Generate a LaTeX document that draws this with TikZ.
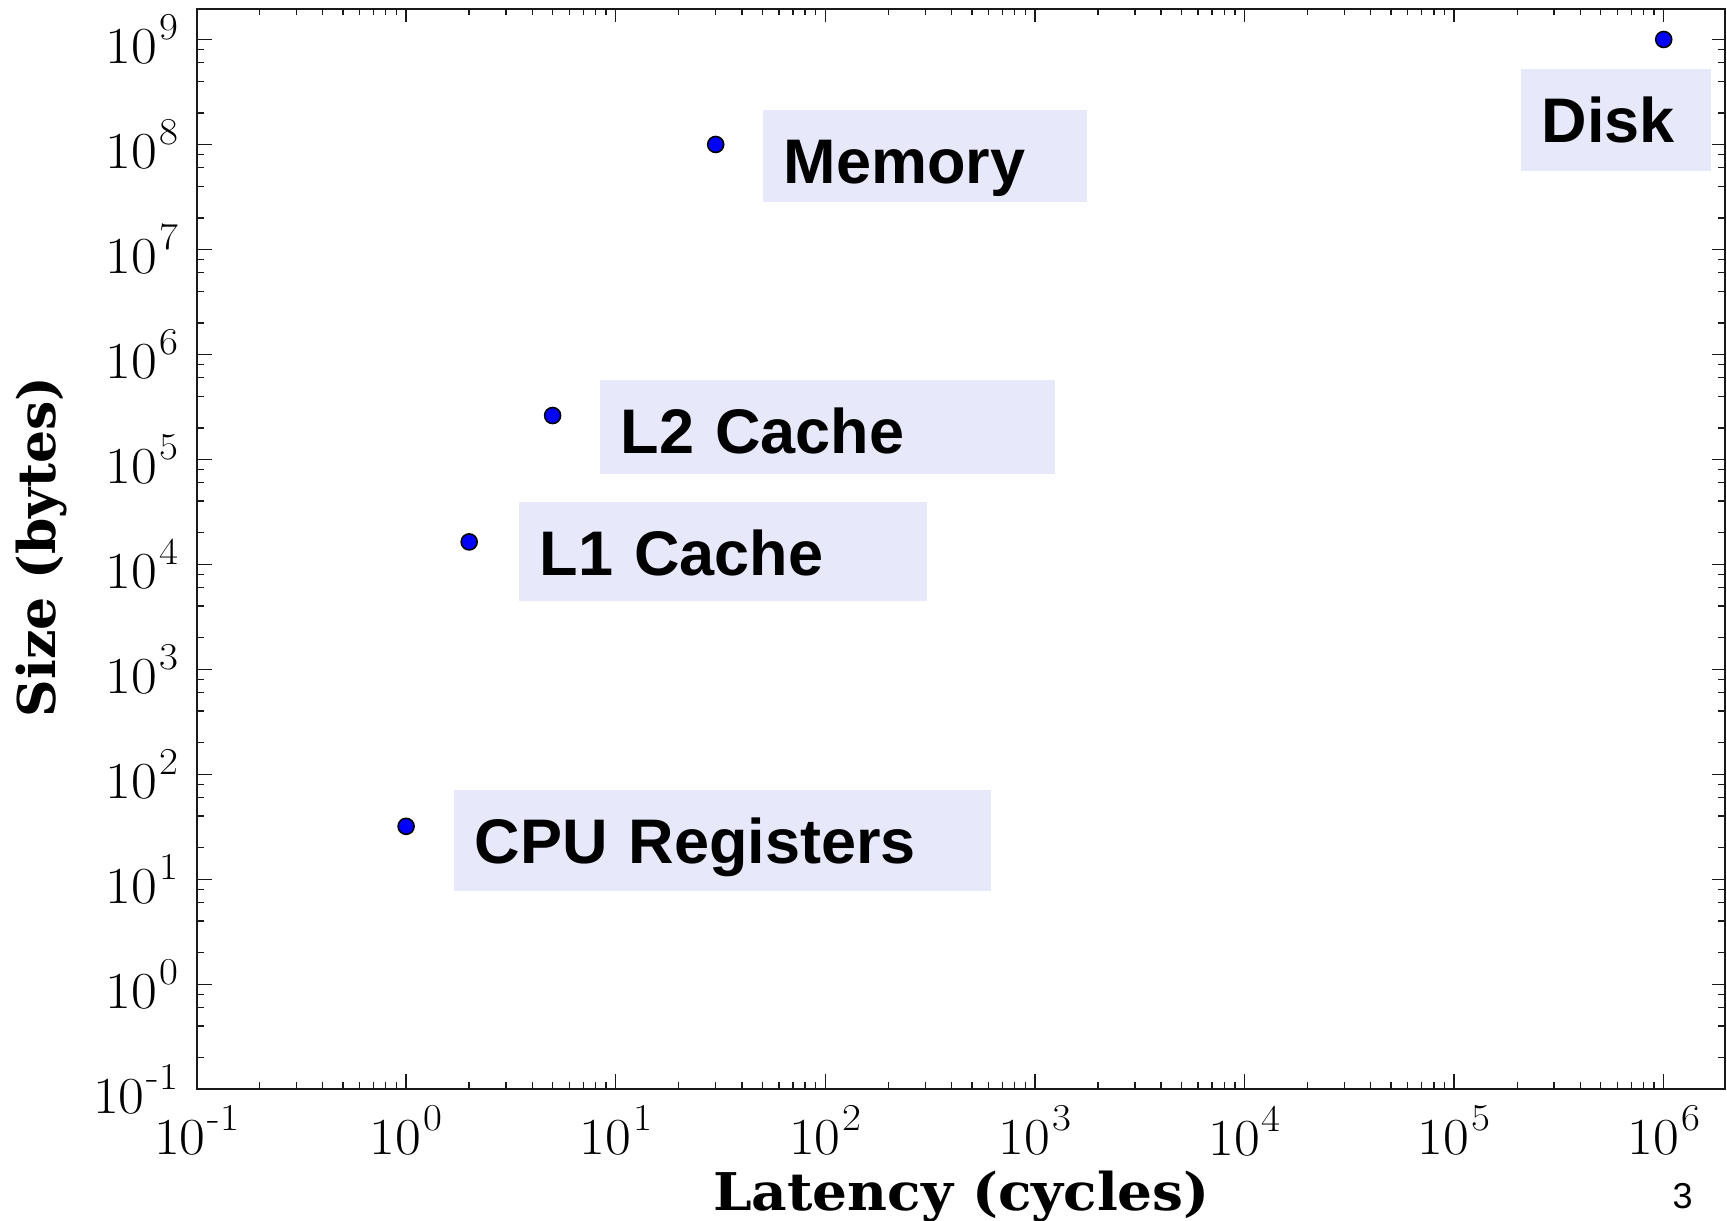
\documentclass[tikz,border=0pt]{standalone}
\usepackage{fontspec}
\newfontfamily\tagfamily{Liberation Sans}
\newfontfamily\axisfamily{DejaVu Serif}
\definecolor{tagfill}{HTML}{E8E8FB}
\definecolor{dotblue}{HTML}{0000FF}
% power-of-ten tick label
\newcommand{\decade}[1]{10\kern1pt\raisebox{12pt}{\fontsize{19}{20}\selectfont #1}}
\begin{document}
\begin{tikzpicture}[x=0.5pt,y=-0.5pt,
  frame/.style={line width=1pt, draw=black!90},
  tickmark/.style={line width=0.7pt, draw=black!90},
  ticklab/.style={font=\fontsize{26}{30}\selectfont, inner sep=0pt, xscale=1.08},
  axislab/.style={font=\axisfamily\bfseries\fontsize{26}{30}\selectfont, inner sep=0pt},
  tag/.style={fill=tagfill, anchor=north west, inner xsep=10.25pt, inner ysep=0pt,
    align=left, text height=36.5pt, font=\tagfamily\bfseries\fontsize{31.5}{36}\selectfont},
  datum/.style={circle, fill=dotblue, draw=black, line width=0.8pt, minimum size=8pt, inner sep=0pt}]

\path[use as bounding box, fill=white] (0,0) rectangle (1727,1220);

% log-log axes: one unit = one decade, origin at (10^0, 10^0)
\begin{scope}[shift={(406.1,984.3)}, x=104.8pt, y=52.49pt]
  \draw[frame] (-1,-1) rectangle (6.29,9.29);
  % major ticks and labels on the latency axis
  \foreach \k in {-1,...,6}{
    \draw[tickmark] (\k,-1) -- ++(0pt,7.5pt);
    \draw[tickmark] (\k,9.29) -- ++(0pt,-6.5pt);
    \node[ticklab, anchor=north] (xt\k) at ([yshift=-8pt]\k,-1) {\decade{\k}};
  }
  % minor ticks on the latency axis
  \foreach \k in {-1,...,5}{
    \foreach \m in {2,...,9}{
      \draw[tickmark] ({\k+log10(\m)},-1) -- ++(0pt,3.5pt);
      \draw[tickmark] ({\k+log10(\m)},9.29) -- ++(0pt,-3.2pt);
    }
  }
  % major ticks and labels on the size axis
  \foreach \k in {-1,...,9}{
    \draw[tickmark] (-1,\k) -- ++(7.5pt,0pt);
    \draw[tickmark] (6.29,\k) -- ++(-6.5pt,0pt);
    \node[ticklab, anchor=east] (yt\k) at ([xshift=-9pt]-1,\k) {\decade{\k}};
  }
  % minor ticks on the size axis
  \foreach \k in {-1,...,8}{
    \foreach \m in {2,4,6,8}{
      \draw[tickmark] (-1,{\k+log10(\m)}) -- ++(3.5pt,0pt);
      \draw[tickmark] (6.29,{\k+log10(\m)}) -- ++(-3.2pt,0pt);
    }
  }
  % data points
  \node[datum] (reg)  at (0,1.505) {};
  \node[datum] (lone) at (0.301,4.214) {};
  \node[datum] (ltwo) at (0.699,5.418) {};
  \node[datum] (mem)  at (1.477,8) {};
  \node[datum] (disk) at (6,9) {};
\end{scope}

% labels
\node[tag, text width=141.2pt, text depth=9.5pt]  (memtag)  at (763,110) {Memory};
\node[tag, text width=74.5pt,  text depth=14.2pt] (disktag) at (1521,69) {Disk};
\node[tag, text width=207pt,   text depth=10.2pt] (ltwotag) at (600,380) {L2 Cache};
\node[tag, text width=183.3pt, text depth=12.9pt] (lonetag) at (519,502) {L1 Cache};
\node[tag, text width=248pt,   text depth=13.8pt] (regtag)  at (454,790) {CPU Registers};

% axis titles
\node[axislab, rotate=90, anchor=base] (ylab) at (55.5,547) {Size (bytes)};
\node[axislab, anchor=base, xscale=1.057] (xlab) at (961.5,1210) {Latency (cycles)};

% slide number
\node[font=\tagfamily\fontsize{18}{20}\selectfont, anchor=base, inner sep=0pt] (pagenum) at (1682.5,1208) {3};
\end{tikzpicture}
\end{document}
